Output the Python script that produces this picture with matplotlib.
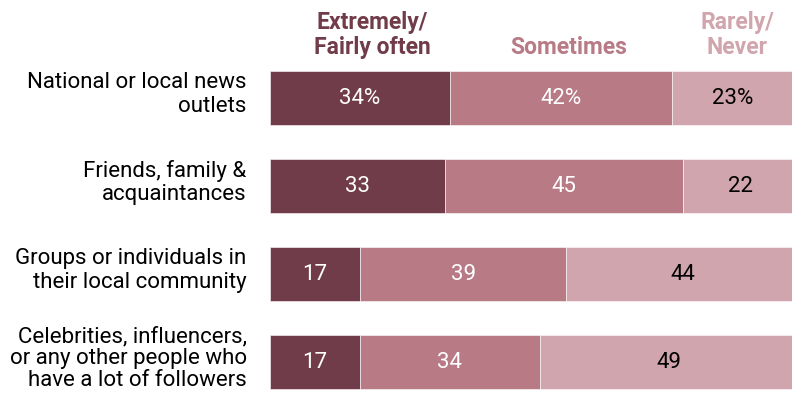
import matplotlib.pyplot as plt

plt.rcParams['font.family'] = ['Roboto', 'DejaVu Sans']

sources = ['National or local news\noutlets',
           'Friends, family &\nacquaintances',
           'Groups or individuals in\ntheir local community',
           'Celebrities, influencers,\nor any other people who\nhave a lot of followers']
often = [34, 33, 17, 17]
sometimes = [42, 45, 39, 34]
rarely = [23, 22, 44, 49]

headers = ['Extremely/\nFairly often', 'Sometimes', 'Rarely/\nNever']
header_x = [19.3, 56.5, 88.3]
colors = ['#713c49', '#b87a85', '#d1a5ad']
text_colors = ['white', 'white', 'black']

fig = plt.figure(figsize=(7.92, 3.96), dpi=100)
ax = fig.add_axes([270 / 792, 0, 1 - 270 / 792, 1])

ypos = list(range(len(sources)))
left = [0] * len(sources)
for i, series in enumerate([often, sometimes, rarely]):
    bars = ax.barh(ypos, series, left=left, height=0.615, color=colors[i],
                   edgecolor='white', linewidth=0.4)
    for j, (b, v) in enumerate(zip(bars, series)):
        lab = f'{v}%' if j == 0 else str(v)
        ax.text(b.get_x() + b.get_width() / 2, b.get_y() + b.get_height() / 2,
                lab, ha='center', va='center', fontsize=16,
                color=text_colors[i])
    left = [l + v for l, v in zip(left, series)]

# row labels: tighter leading on the three-line one
for y, s in zip(ypos, sources):
    ls = 1.05 if s.count('\n') > 1 else 1.18
    ax.text(-4.4, y - 0.04, s, ha='right', va='center', fontsize=16,
            linespacing=ls, color='black', clip_on=False)

for x, h, c in zip(header_x, headers, colors):
    ax.text(x, -0.44, h, ha='center', va='bottom', fontsize=16.5,
            fontweight='bold', color=c, linespacing=1.15)

ax.set_xlim(0, (792 - 270) / 5.29)
ax.set_ylim(3.386, -1.114)
ax.axis('off')

fig.savefig('out.png', dpi=100)
